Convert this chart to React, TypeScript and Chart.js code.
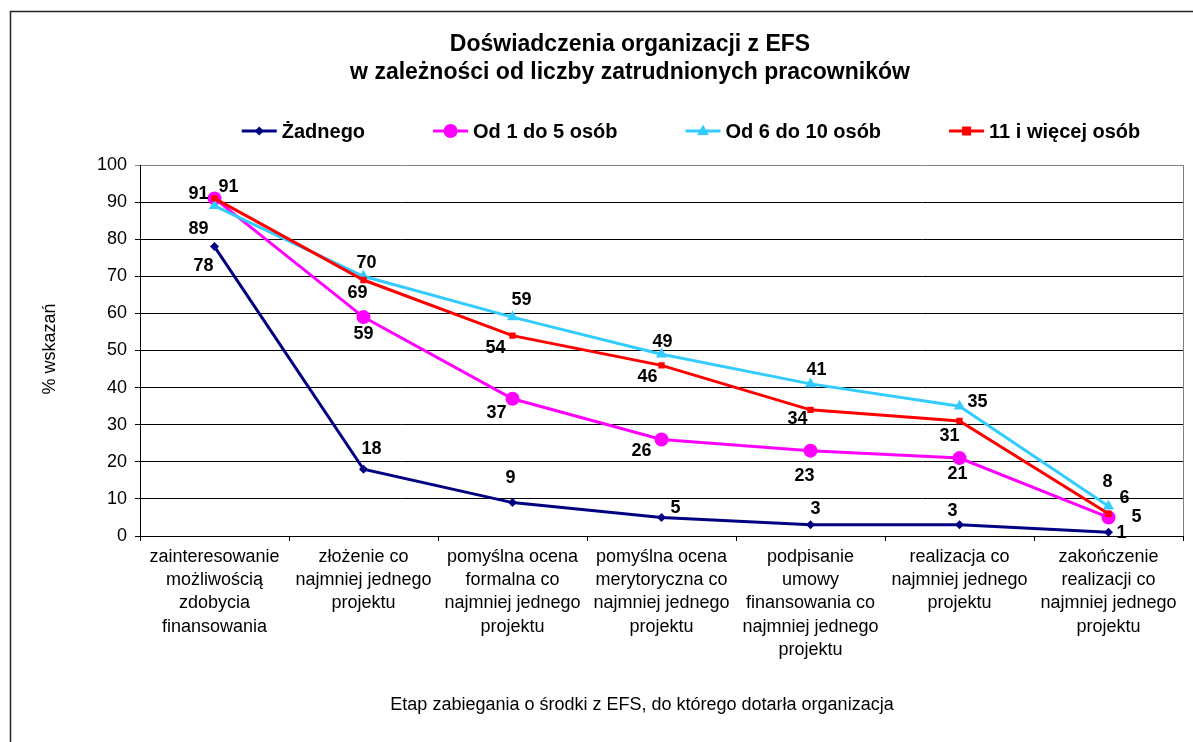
import React, { useEffect, useRef } from "react";
import { Chart, registerables } from "chart.js";

Chart.register(...registerables);

// ---------- data ----------
const categories: string[][] = [
  ["zainteresowanie", "możliwością", "zdobycia", "finansowania"],
  ["złożenie co", "najmniej jednego", "projektu"],
  ["pomyślna ocena", "formalna co", "najmniej jednego", "projektu"],
  ["pomyślna ocena", "merytoryczna co", "najmniej jednego", "projektu"],
  ["podpisanie", "umowy", "finansowania co", "najmniej jednego", "projektu"],
  ["realizacja co", "najmniej jednego", "projektu"],
  ["zakończenie", "realizacji co", "najmniej jednego", "projektu"],
];

const seriesNames = ["Żadnego", "Od 1 do 5 osób", "Od 6 do 10 osób", "11 i więcej osób"];
const zadnego = [78, 18, 9, 5, 3, 3, 1];
const od1do5 = [91, 59, 37, 26, 23, 21, 5];
const od6do10 = [89, 70, 59, 49, 41, 35, 8];
const od11 = [91, 69, 54, 46, 34, 31, 6];

const yMin = 0;
const yMax = 100;
const yStep = 10;

const titleLines = ["Doświadczenia organizacji z EFS", "w zależności od liczby zatrudnionych pracowników"];
const yTitle = "% wskazań";
const xTitle = "Etap zabiegania o środki z EFS, do którego dotarła organizacja";

// ---------- styles ----------
const colors = ["#000080", "#FF00FF", "#33CCFF", "#FF0000"];
const pointStyles = ["rectRot", "circle", "triangle", "rect"];
const pointRadii = [4.5, 7, 6.5, 4.5];
// label offsets (dx, dy) relative to each point, per series
const labelOffsets: number[][][] = [
  [[-11, 19], [8, -20], [-2, -25], [14, -9], [5, -16], [-7, -14], [13, 1]],
  [[-16, -4], [0, 17], [-16, 14], [-20, 11], [-6, 25], [-2, 16], [28, 0]],
  [[-16, 23], [3, -13], [9, -17], [1, -12], [6, -14], [18, -4], [-1, -24]],
  [[14, -11], [-6, 13], [-17, 12], [-14, 12], [-13, 9], [-10, 15], [16, -16]],
];

const FONT = '"Liberation Sans", Arial, sans-serif';
const W = 1193;
const H = 742;

function drawMarker(ctx: CanvasRenderingContext2D, style: string, x: number, y: number, r: number, color: string) {
  ctx.fillStyle = color;
  ctx.beginPath();
  if (style === "circle") {
    ctx.arc(x, y, r, 0, Math.PI * 2);
  } else if (style === "rect") {
    ctx.rect(x - r, y - r, 2 * r, 2 * r);
  } else if (style === "rectRot") {
    ctx.moveTo(x, y - r);
    ctx.lineTo(x + r, y);
    ctx.lineTo(x, y + r);
    ctx.lineTo(x - r, y);
    ctx.closePath();
  } else if (style === "triangle") {
    ctx.moveTo(x, y - r);
    ctx.lineTo(x + r * 0.9, y + r * 0.6);
    ctx.lineTo(x - r * 0.9, y + r * 0.6);
    ctx.closePath();
  }
  ctx.fill();
}

const decorPlugin = {
  id: "decor",
  afterDraw(chart: any) {
    const ctx: CanvasRenderingContext2D = chart.ctx;
    const a = chart.chartArea;
    ctx.save();

    // outer frame
    ctx.strokeStyle = "#222";
    ctx.lineWidth = 1.5;
    ctx.beginPath();
    ctx.moveTo(10.5, H);
    ctx.lineTo(10.5, 11.5);
    ctx.lineTo(W, 11.5);
    ctx.stroke();

    // right plot border
    ctx.strokeStyle = "#808080";
    ctx.lineWidth = 1;
    ctx.beginPath();
    ctx.moveTo(Math.round(a.right) + 0.5, a.top);
    ctx.lineTo(Math.round(a.right) + 0.5, a.bottom);
    ctx.stroke();

    // title
    ctx.fillStyle = "#000";
    ctx.textAlign = "center";
    ctx.textBaseline = "middle";
    ctx.font = `bold 23px ${FONT}`;
    ctx.fillText(titleLines[0], 630, 45);
    ctx.fillText(titleLines[1], 630, 73);

    // legend
    ctx.font = `bold 20px ${FONT}`;
    const lineLen = 35;
    const gapText = 5;
    const widths = seriesNames.map((n) => ctx.measureText(n).width);
    const itemGap = 68;
    const total = widths.reduce((s, w) => s + w + lineLen + gapText, 0) + itemGap * (seriesNames.length - 1);
    let lx = 691 - total / 2;
    const ly = 131;
    ctx.textAlign = "left";
    seriesNames.forEach((name, i) => {
      ctx.strokeStyle = colors[i];
      ctx.lineWidth = 3;
      ctx.beginPath();
      ctx.moveTo(lx, ly);
      ctx.lineTo(lx + lineLen, ly);
      ctx.stroke();
      drawMarker(ctx, pointStyles[i], lx + lineLen / 2, ly, pointRadii[i], colors[i]);
      ctx.fillStyle = "#000";
      ctx.fillText(name, lx + lineLen + gapText, ly + 1);
      lx += lineLen + gapText + widths[i] + itemGap;
    });

    // axis titles
    ctx.font = `18px ${FONT}`;
    ctx.textAlign = "center";
    ctx.fillText(xTitle, 642, 705);
    ctx.save();
    ctx.translate(50, 349);
    ctx.rotate(-Math.PI / 2);
    ctx.fillText(yTitle, 0, 0);
    ctx.restore();

    // data labels
    ctx.font = `bold 18px ${FONT}`;
    ctx.fillStyle = "#000";
    ctx.textAlign = "center";
    ctx.textBaseline = "middle";
    chart.data.datasets.forEach((ds: any, i: number) => {
      const meta = chart.getDatasetMeta(i);
      meta.data.forEach((pt: any, j: number) => {
        const off = labelOffsets[i][j];
        ctx.fillText(String(ds.data[j]), pt.x + off[0], pt.y + off[1]);
      });
    });

    ctx.restore();
  },
};

export default function App() {
  const ref = useRef<HTMLCanvasElement | null>(null);

  useEffect(() => {
    if (!ref.current) return;
    const series = [zadnego, od1do5, od6do10, od11];
    const chart = new Chart(ref.current, {
      type: "line",
      data: {
        labels: categories,
        datasets: series.map((d, i) => ({
          label: seriesNames[i],
          data: d,
          borderColor: colors[i],
          backgroundColor: colors[i],
          borderWidth: 3,
          pointStyle: pointStyles[i] as any,
          pointRadius: pointRadii[i],
          pointBorderWidth: 0,
          pointBackgroundColor: colors[i],
          tension: 0,
          order: 3 - i,
        })),
      },
      options: {
        animation: false,
        responsive: false,
        devicePixelRatio: 1,
        layout: { padding: { top: 165, right: 10, bottom: 0, left: 0 } },
        plugins: {
          legend: { display: false },
          title: { display: false },
          tooltip: { enabled: false },
        },
        scales: {
          x: {
            type: "category",
            offset: true,
            grid: {
              offset: true,
              drawOnChartArea: false,
              drawTicks: true,
              tickLength: 5,
              color: "#000",
            },
            border: { display: true, color: "#000", width: 1 },
            ticks: {
              color: "#000",
              font: { family: FONT, size: 18, lineHeight: 1.3 },
              padding: 4,
              maxRotation: 0,
              autoSkip: false,
            },
            afterFit: (s: any) => {
              s.height = H - 536;
            },
          },
          y: {
            min: yMin,
            max: yMax,
            grid: {
              color: (c: any) => (c.tick && c.tick.value === yMax ? "#808080" : "#000"),
              lineWidth: 1,
              tickLength: 5,
              drawTicks: true,
            },
            border: { display: true, color: "#000", width: 1 },
            ticks: {
              stepSize: yStep,
              color: "#000",
              font: { family: FONT, size: 18 },
              padding: 8,
            },
            afterFit: (s: any) => {
              s.width = 140;
            },
          },
        },
      },
      plugins: [decorPlugin],
    });
    return () => chart.destroy();
  }, []);

  return (
    <div style={{ position: "absolute", left: 0, top: 0, width: W, height: H, overflow: "hidden", background: "#fff" }}>
      <canvas ref={ref} width={W} height={H} style={{ width: W, height: H, display: "block" }} />
    </div>
  );
}
